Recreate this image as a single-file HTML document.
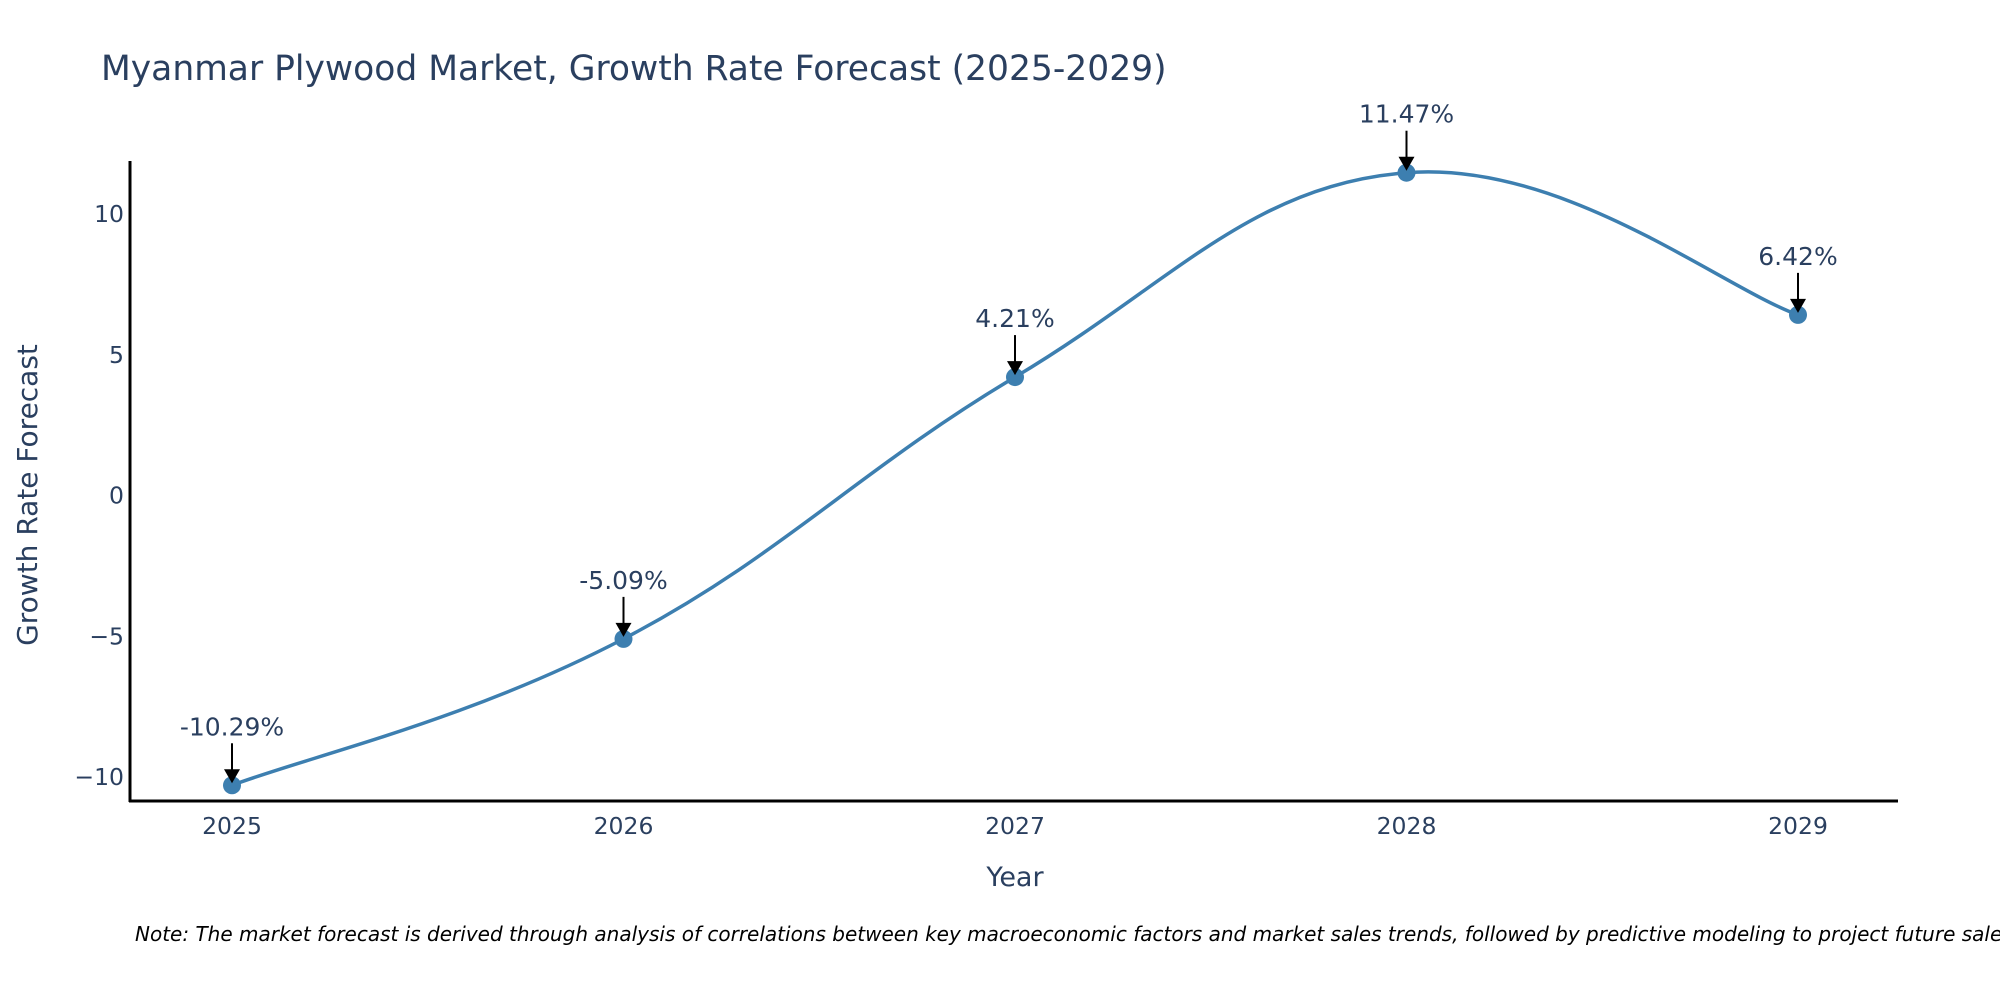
<!DOCTYPE html>
<html><head><meta charset="utf-8"><style>
body{margin:0;background:#fff;overflow:hidden}
svg{display:block;font-family:"DejaVu Sans","Liberation Sans",sans-serif}
</style></head><body>
<svg id="chart" width="2000" height="1000" viewBox="0 0 2000 1000">
<text x="101" y="80" font-size="34.5" fill="#2a3f5f">Myanmar Plywood Market, Growth Rate Forecast (2025-2029)</text>
<g id="yticks"></g>
<g id="xticks"></g>
<line x1="130" y1="161" x2="130" y2="802" stroke="#000" stroke-width="3"/>
<line x1="129" y1="801" x2="1898" y2="801" stroke="#000" stroke-width="3"/>
<text transform="translate(37,495) rotate(-90)" text-anchor="middle" font-size="28" fill="#2a3f5f">Growth Rate Forecast</text>
<text x="1015" y="886" text-anchor="middle" font-size="27" fill="#2a3f5f">Year</text>
<path id="line" fill="none" stroke="#3d7fb0" stroke-width="3.5"/>
<g id="points"></g>
<g id="annots"></g>
<text x="135" y="941" font-size="20" font-style="italic" fill="#000">Note: The market forecast is derived through analysis of correlations between key macroeconomic factors and market sales trends, followed by predictive modeling to project future sales</text>
</svg>
<script>
const years = [2025, 2026, 2027, 2028, 2029];
const growth = [-10.29, -5.09, 4.21, 11.47, 6.42];
const labels = ["-10.29%", "-5.09%", "4.21%", "11.47%", "6.42%"];
const yTickValues = [-10, -5, 0, 5, 10];
const yTickLabels = ["\u221210", "\u22125", "0", "5", "10"];

const NS = "http://www.w3.org/2000/svg";
function xs(v){ return 232 + (v - 2025) * 391.5; }
function ys(v){ return 495.6 - v * 28.15; }
function mk(tag, attrs, parent){
  const e = document.createElementNS(NS, tag);
  for (const k in attrs) e.setAttribute(k, attrs[k]);
  parent.appendChild(e); return e;
}
const yt = document.getElementById('yticks');
yTickValues.forEach((v,i)=>{
  const t = mk('text',{x:124,y:ys(v)+8,'text-anchor':'end','font-size':23.5,fill:'#2a3f5f'},yt);
  
  
  t.textContent = yTickLabels[i];
});
const xt = document.getElementById('xticks');
years.forEach(v=>{
  const t = mk('text',{x:xs(v),y:834,'text-anchor':'middle','font-size':23.5,fill:'#2a3f5f'},xt);
  
  
  t.textContent = String(v);
});
const P = years.map((y,i)=>[xs(y), ys(growth[i])]);
let d = "M" + P[0][0] + "," + P[0][1];
const s = 0.2;
for (let i=0;i<P.length-1;i++){
  const p0 = P[Math.max(0,i-1)], p1 = P[i], p2 = P[i+1], p3 = P[Math.min(P.length-1,i+2)];
  const c1 = [p1[0] + (p2[0]-p0[0])*s, p1[1] + (p2[1]-p0[1])*s];
  const c2 = [p2[0] - (p3[0]-p1[0])*s, p2[1] - (p3[1]-p1[1])*s];
  d += " C" + c1[0] + "," + c1[1] + " " + c2[0] + "," + c2[1] + " " + p2[0] + "," + p2[1];
}
document.getElementById('line').setAttribute('d', d);
const pts = document.getElementById('points');
const an = document.getElementById('annots');
P.forEach((p,i)=>{
  const c = mk('circle',{cx:p[0],cy:p[1],r:9,fill:'#3d7fb0'},pts);
  
  
  const l = mk('line',{x1:p[0],y1:p[1]-42,x2:p[0],y2:p[1]-14,stroke:'#000','stroke-width':2},an);
  
  
  const h = mk('polygon',{points:(p[0]-8)+","+(p[1]-16)+" "+(p[0]+8)+","+(p[1]-16)+" "+p[0]+","+(p[1]-2),fill:'#000'},an);
  
  
  const t = mk('text',{x:p[0],y:p[1]-50,'text-anchor':'middle','font-size':25,fill:'#2a3f5f'},an);
  
  
  t.textContent = labels[i];
});
</script>
</body></html>
